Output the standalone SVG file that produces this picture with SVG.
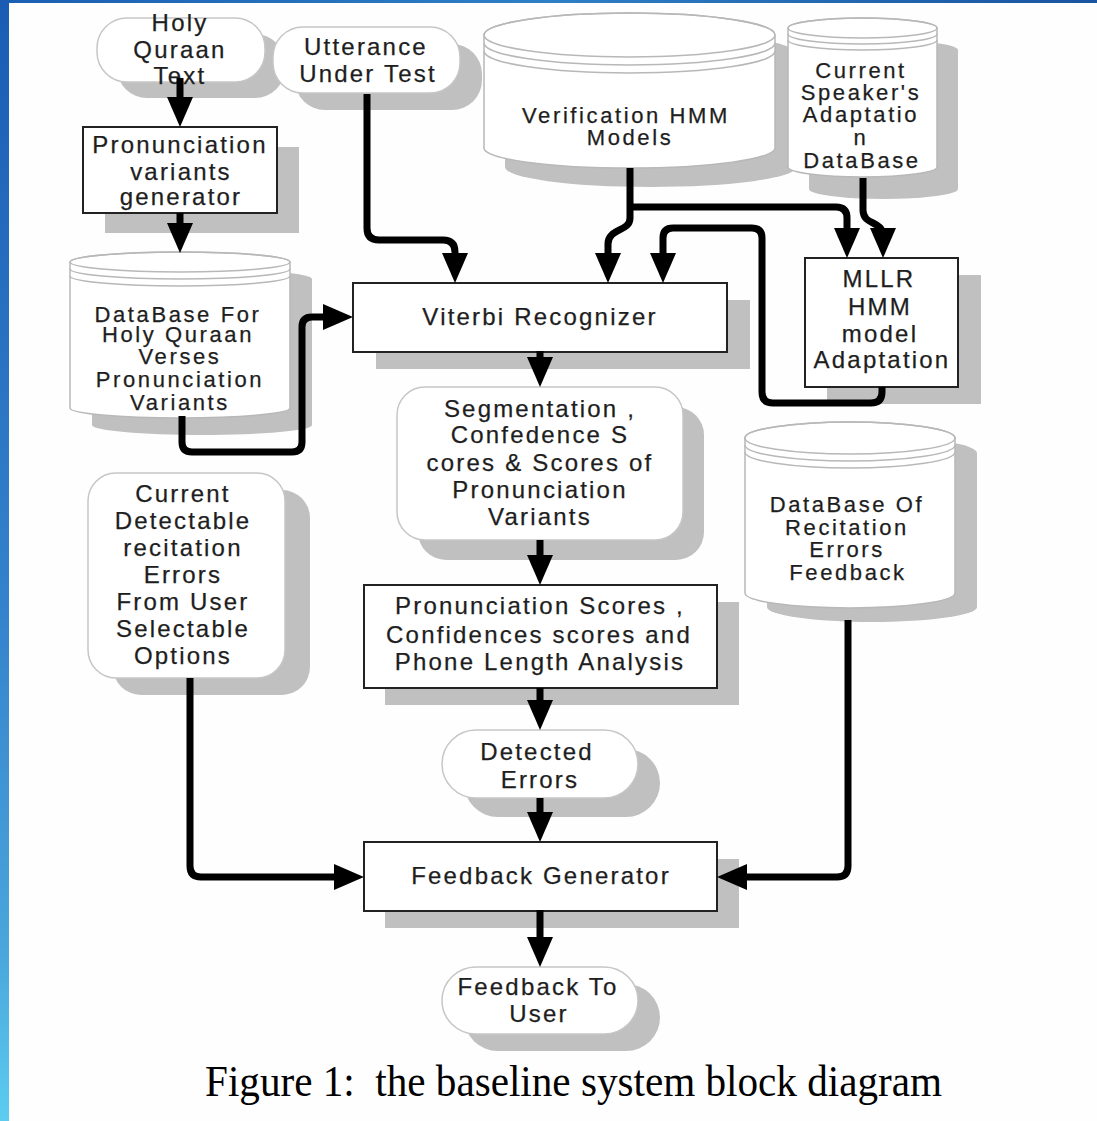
<svg xmlns="http://www.w3.org/2000/svg" width="1097" height="1121" viewBox="0 0 1097 1121">
<defs>
<linearGradient id="gTop" x1="0" y1="0" x2="1" y2="0">
<stop offset="0" stop-color="#1b5fb2"/><stop offset="0.5" stop-color="#2e7fc6"/><stop offset="1" stop-color="#1a54a0"/>
</linearGradient>
<linearGradient id="gLeft" x1="0" y1="0" x2="0" y2="1">
<stop offset="0" stop-color="#1a5cb4"/><stop offset="0.55" stop-color="#3583cc"/><stop offset="0.85" stop-color="#4aa6dc"/><stop offset="1" stop-color="#5ccdf0"/>
</linearGradient>
<marker id="ah" markerUnits="userSpaceOnUse" viewBox="0 0 30 26" markerWidth="30" markerHeight="26" refX="21" refY="13" orient="auto">
<path d="M0,0 L30,13 L0,26 Z" fill="#000"/>
</marker>
</defs>
<style>
.sh{fill:#c0c0c0;stroke:none}
.rn{fill:#fff;stroke:#c6c6c6;stroke-width:1.5}
.bx{fill:#fff;stroke:#222;stroke-width:2}
.cy{fill:#fff;stroke:#b8b8b8;stroke-width:1.5}
.ring{fill:none;stroke:#b8b8b8;stroke-width:1.5}
.t{font-family:"Liberation Sans",Arial,sans-serif;font-size:24px;letter-spacing:2.2px;fill:#1e1e1e;text-anchor:middle;stroke:#1e1e1e;stroke-width:0.25}
.tc{font-size:22px;letter-spacing:2.6px}
.c{fill:none;stroke:#000;stroke-width:7;stroke-linejoin:round;stroke-linecap:butt;marker-end:url(#ah)}
.cap{font-family:"Liberation Serif","Times New Roman",serif;font-size:44px;fill:#000}
</style>
<rect x="0" y="0" width="1097" height="1121" fill="#fefefe"/>
<rect x="0" y="0" width="1097" height="3" fill="url(#gTop)"/>
<rect x="0" y="0" width="9" height="1121" fill="url(#gLeft)"/>

<g id="n-holy-text">
<rect class="sh" x="117" y="34" width="168" height="64" rx="30"/>
<rect class="rn" x="97" y="18" width="168" height="64" rx="30"/>
<text class="t"><tspan x="180" y="31">Holy</tspan><tspan x="180" y="58">Quraan</tspan><tspan x="180" y="84">Text</tspan></text>
</g>
<g id="n-utterance">
<rect class="sh" x="295" y="44" width="187" height="66" rx="30"/>
<rect class="rn" x="273" y="27" width="187" height="66" rx="30"/>
<text class="t"><tspan x="366" y="55">Utterance</tspan><tspan x="368" y="82">Under Test</tspan></text>
</g>
<g id="n-pron-gen">
<rect class="sh" x="105" y="147" width="194" height="86"/>
<rect class="bx" x="83" y="127" width="194" height="86"/>
<text class="t"><tspan x="180" y="153">Pronunciation</tspan><tspan x="181" y="180">variants</tspan><tspan x="181" y="205">generator</tspan></text>
</g>
<g id="n-db-holy">
<path class="sh" d="M92,279 A110,10 0 0 1 312,279 V425 A110,10 0 0 1 92,425 Z"/>
<path class="cy" d="M70,262 A110,10 0 0 1 290,262 V408 A110,10 0 0 1 70,408 Z"/>
<ellipse class="ring" cx="180" cy="262" rx="110" ry="10"/>
<path class="ring" d="M70,269 A110,10 0 0 0 290,269 M70,276 A110,10 0 0 0 290,276"/>
<text class="t tc"><tspan x="178" y="322">DataBase For</tspan><tspan x="178" y="342">Holy Quraan</tspan><tspan x="180" y="364">Verses</tspan><tspan x="180" y="387">Pronunciation</tspan><tspan x="180" y="410">Variants</tspan></text>
</g>
<g id="n-verif">
<path class="sh" d="M505,54 A145.5,22 0 0 1 796,54 V167 A145.5,20 0 0 1 505,167 Z"/>
<path class="cy" d="M484,35 A145.5,22 0 0 1 775,35 V148 A145.5,20 0 0 1 484,148 Z"/>
<ellipse class="ring" cx="629.5" cy="35" rx="145.5" ry="22"/>
<path class="ring" d="M484,43 A145.5,22 0 0 0 775,43 M484,51 A145.5,22 0 0 0 775,51"/>
<text class="t tc"><tspan x="626" y="123">Verification HMM</tspan><tspan x="630" y="145">Models</tspan></text>
</g>
<g id="n-speaker-db">
<path class="sh" d="M809,50 A74.5,10 0 0 1 958,50 V189 A74.5,10 0 0 1 809,189 Z"/>
<path class="cy" d="M788,28 A74.5,10 0 0 1 937,28 V167 A74.5,10 0 0 1 788,167 Z"/>
<ellipse class="ring" cx="862.5" cy="28" rx="74.5" ry="10"/>
<path class="ring" d="M788,34 A74.5,10 0 0 0 937,34 M788,40 A74.5,10 0 0 0 937,40"/>
<text class="t tc"><tspan x="861" y="78">Current</tspan><tspan x="861" y="100">Speaker's</tspan><tspan x="861" y="122">Adaptatio</tspan><tspan x="861" y="145">n</tspan><tspan x="862" y="168">DataBase</tspan></text>
</g>
<g id="n-viterbi">
<rect class="sh" x="376" y="300" width="374" height="69"/>
<rect class="bx" x="353" y="283" width="374" height="69"/>
<text class="t" x="540" y="325">Viterbi Recognizer</text>
</g>
<g id="n-mllr">
<rect class="sh" x="827" y="275" width="154" height="129"/>
<rect class="bx" x="805" y="258" width="153" height="129"/>
<text class="t"><tspan x="879" y="287">MLLR</tspan><tspan x="880" y="315">HMM</tspan><tspan x="880" y="342">model</tspan><tspan x="882" y="368">Adaptation</tspan></text>
</g>
<g id="n-segmentation">
<rect class="sh" x="418" y="407" width="286" height="153" rx="28"/>
<rect class="rn" x="397" y="387" width="286" height="153" rx="28"/>
<text class="t"><tspan x="540" y="417">Segmentation ,</tspan><tspan x="540" y="443">Confedence S</tspan><tspan x="540" y="471">cores &amp; Scores of</tspan><tspan x="540" y="498">Pronunciation</tspan><tspan x="540" y="525">Variants</tspan></text>
</g>
<g id="n-detectable">
<rect class="sh" x="113" y="490" width="197" height="205" rx="28"/>
<rect class="rn" x="88" y="473" width="197" height="205" rx="28"/>
<text class="t"><tspan x="183" y="502">Current</tspan><tspan x="183" y="529">Detectable</tspan><tspan x="183" y="556">recitation</tspan><tspan x="183" y="583">Errors</tspan><tspan x="183" y="610">From User</tspan><tspan x="183" y="637">Selectable</tspan><tspan x="183" y="664">Options</tspan></text>
</g>
<g id="n-db-errors">
<path class="sh" d="M767,453 A105,16 0 0 1 977,453 V607 A105,15 0 0 1 767,607 Z"/>
<path class="cy" d="M745,438 A105,16 0 0 1 955,438 V593 A105,15 0 0 1 745,593 Z"/>
<ellipse class="ring" cx="850" cy="438" rx="105" ry="16"/>
<path class="ring" d="M745,445 A105,16 0 0 0 955,445 M745,452 A105,16 0 0 0 955,452"/>
<text class="t tc"><tspan x="847" y="512">DataBase Of</tspan><tspan x="847" y="535">Recitation</tspan><tspan x="847" y="557">Errors</tspan><tspan x="848" y="580">Feedback</tspan></text>
</g>
<g id="n-pron-scores">
<rect class="sh" x="385" y="602" width="354" height="103"/>
<rect class="bx" x="364" y="585" width="353" height="103"/>
<text class="t"><tspan x="540" y="614">Pronunciation Scores ,</tspan><tspan x="539" y="643">Confidences scores and</tspan><tspan x="540" y="670">Phone Length Analysis</tspan></text>
</g>
<g id="n-detected">
<rect class="sh" x="464" y="749" width="196" height="68" rx="34"/>
<rect class="rn" x="442" y="730" width="196" height="68" rx="34"/>
<text class="t"><tspan x="537" y="760">Detected</tspan><tspan x="540" y="788">Errors</tspan></text>
</g>
<g id="n-feedback-gen">
<rect class="sh" x="385" y="859" width="354" height="69"/>
<rect class="bx" x="364" y="842" width="353" height="69"/>
<text class="t" x="541" y="884">Feedback Generator</text>
</g>
<g id="n-feedback-user">
<rect class="sh" x="464" y="984" width="196" height="67" rx="34"/>
<rect class="rn" x="442" y="967" width="196" height="67" rx="34"/>
<text class="t"><tspan x="538" y="995">Feedback To</tspan><tspan x="539" y="1022">User</tspan></text>
</g>

<g id="connectors">
<path class="c" d="M180,78 V118"/>
<path class="c" d="M180,213 V244"/>
<path class="c" d="M367,94 V228 Q367,240 379,240 H443 Q455,240 455,252 V274"/>
<path class="c" d="M630,168 V218 C630,232 608,228 608,244 V274"/>
<path class="c" d="M630,207 H836 Q847,207 847,218 V249"/>
<path class="c" d="M863,178 V210 C863,226 883,220 883,236 V249"/>
<path class="c" d="M882,387 V392 Q882,403 871,403 H773 Q762,403 762,392 V238 Q762,228 752,228 H673 Q663,228 663,238 V274"/>
<path class="c" d="M182,416 V442 Q182,452 192,452 H292 Q302,452 302,442 V327 Q302,317 312,317 H344"/>
<path class="c" d="M540,351 V378"/>
<path class="c" d="M540,540 V576"/>
<path class="c" d="M540,688 V721"/>
<path class="c" d="M540,798 V833"/>
<path class="c" d="M540,910 V958"/>
<path class="c" d="M190,678 V866 Q190,877 201,877 H355"/>
<path class="c" d="M848,620 V866 Q848,877 837,877 H726"/>
</g>

<text class="cap" x="205" y="1096" textLength="737" lengthAdjust="spacingAndGlyphs" xml:space="preserve">Figure 1:  the baseline system block diagram</text>
</svg>
